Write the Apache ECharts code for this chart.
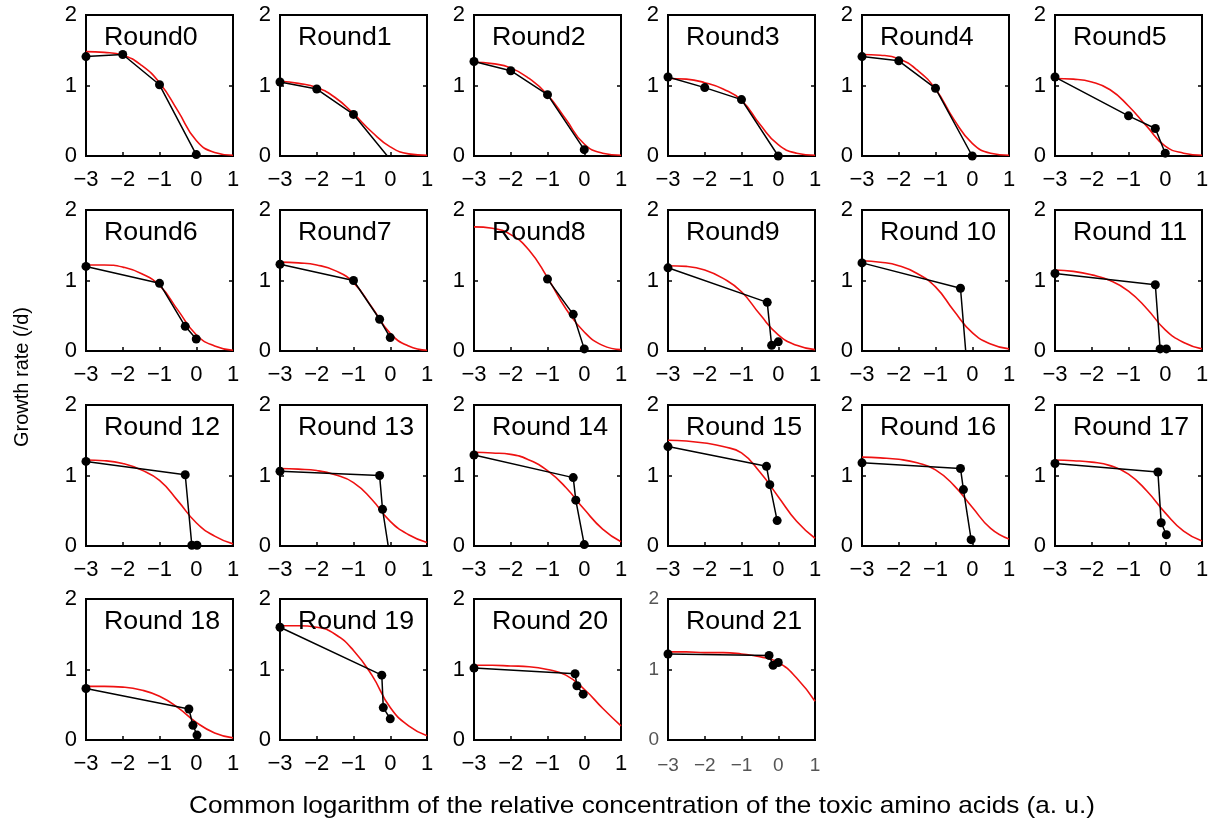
<!DOCTYPE html>
<html>
<head>
<meta charset="utf-8">
<script src="https://cdn.jsdelivr.net/npm/echarts@6/dist/echarts.min.js"></script>
<style>html,body{margin:0;padding:0;background:#fff}#c{width:1215px;height:827px}</style>
</head>
<body>
<div id="c"></div>
<script>
// ---- data ----
const roundTitles = ['Round0','Round1','Round2','Round3','Round4','Round5',
  'Round6','Round7','Round8','Round9','Round 10','Round 11',
  'Round 12','Round 13','Round 14','Round 15','Round 16','Round 17',
  'Round 18','Round 19','Round 20','Round 21'];
const xTicks = [-3, -2, -1, 0, 1];
const yTicks = [0, 1, 2];
// measured growth rate: [log concentration, growth rate]
const measured = [
  [[-3,1.41],[-2,1.44],[-1,1.01],[0,0.02]],
  [[-3,1.05],[-2,0.95],[-1,0.59],[0,-0.05]],
  [[-3,1.34],[-2,1.21],[-1,0.87],[0,0.09]],
  [[-3,1.12],[-2,0.97],[-1,0.80],[0,0]],
  [[-3,1.41],[-2,1.35],[-1,0.96],[0,0]],
  [[-3,1.12],[-1,0.57],[-0.27,0.39],[0,0.04]],
  [[-3,1.20],[-1,0.96],[-0.3,0.35],[0,0.17]],
  [[-3,1.23],[-1,1.00],[-0.29,0.45],[0,0.19]],
  [[-1,1.02],[-0.3,0.52],[0,0.03]],
  [[-3,1.18],[-0.3,0.69],[-0.18,0.08],[0,0.13]],
  [[-3,1.25],[-0.32,0.89],[-0.17,-0.05]],
  [[-3,1.10],[-0.27,0.94],[-0.14,0.03],[0.03,0.03]],
  [[-3,1.20],[-0.3,1.01],[-0.12,0.01],[0.02,0.01]],
  [[-3,1.06],[-0.29,1.00],[-0.21,0.52],[-0.04,-0.05]],
  [[-3,1.29],[-0.3,0.97],[-0.23,0.65],[0,0.02]],
  [[-3,1.41],[-0.32,1.13],[-0.23,0.87],[-0.03,0.36]],
  [[-3,1.18],[-0.32,1.10],[-0.24,0.80],[-0.03,0.09]],
  [[-3,1.17],[-0.2,1.05],[-0.11,0.33],[0.03,0.16]],
  [[-3,0.73],[-0.2,0.44],[-0.09,0.21],[0.02,0.07]],
  [[-3,1.60],[-0.23,0.92],[-0.19,0.46],[0,0.30]],
  [[-3,1.02],[-0.25,0.94],[-0.2,0.77],[-0.03,0.65]],
  [[-3,1.22],[-0.25,1.20],[-0.14,1.06],[0,1.10]]
];
// fitted curve sampled at fitX
const fitX = [-3, -2.5, -2, -1.5, -1, -0.5, 0, 0.5, 1];
const fitY = [
  [1.48,1.47,1.43,1.29,1.04,0.64,0.22,0.05,0.01],
  [1.06,1.03,0.97,0.83,0.60,0.34,0.13,0.03,0.01],
  [1.33,1.31,1.25,1.10,0.87,0.52,0.17,0.04,0.01],
  [1.10,1.09,1.04,0.95,0.79,0.45,0.16,0.04,0.01],
  [1.44,1.43,1.38,1.22,0.95,0.52,0.18,0.04,0.01],
  [1.10,1.09,1.05,0.94,0.71,0.42,0.14,0.04,0.01],
  [1.22,1.22,1.19,1.10,0.93,0.58,0.23,0.07,0.01],
  [1.26,1.25,1.22,1.14,0.97,0.62,0.25,0.07,0.01],
  [1.76,1.74,1.65,1.43,1.04,0.60,0.27,0.08,0.02],
  [1.21,1.20,1.15,1.03,0.84,0.52,0.23,0.08,0.02],
  [1.28,1.26,1.21,1.10,0.91,0.57,0.26,0.10,0.03],
  [1.15,1.13,1.08,1.00,0.85,0.60,0.30,0.12,0.03],
  [1.22,1.21,1.17,1.08,0.93,0.64,0.33,0.14,0.03],
  [1.10,1.09,1.07,1.01,0.90,0.66,0.35,0.16,0.05],
  [1.33,1.32,1.30,1.22,1.07,0.83,0.52,0.24,0.06],
  [1.50,1.49,1.46,1.41,1.32,1.05,0.70,0.35,0.11],
  [1.26,1.25,1.23,1.18,1.08,0.86,0.55,0.25,0.10],
  [1.22,1.21,1.19,1.14,1.02,0.78,0.47,0.21,0.07],
  [0.76,0.76,0.75,0.71,0.62,0.46,0.25,0.10,0.03],
  [1.62,1.62,1.60,1.50,1.27,0.92,0.46,0.20,0.06],
  [1.06,1.06,1.05,1.04,1.00,0.92,0.72,0.45,0.20],
  [1.25,1.25,1.24,1.24,1.22,1.18,1.10,0.88,0.55]
];
const yAxisTitle = 'Growth rate (/d)';
const xAxisTitle = 'Common logarithm of the relative concentration of the toxic amino acids (a. u.)';

// ---- layout ----
const colLeft = [86, 280, 474, 668, 862, 1055];
const rowTop = [15, 210, 405, 599];
const W = 147, H = 141;
const FONT = '"Liberation Sans", Arial, Helvetica, sans-serif';
const fmt = v => v < 0 ? '\u2212' + Math.abs(v) : String(v);
const tick = {show: true, inside: true, length: 4, lineStyle: {color: '#000', width: 1.5}};

const grids = [], xAxes = [], yAxes = [], series = [], texts = [];
roundTitles.forEach((name, i) => {
  const r = Math.floor(i / 6), c = i % 6;
  const left = colLeft[c], top = rowTop[r];
  const last = i === 21;
  const labColor = last ? '#555' : '#000';
  const labSize = last ? 19 : 22;
  grids.push({left: left, top: top, width: W, height: H, show: true,
    borderColor: '#000', borderWidth: 2, backgroundColor: 'transparent'});
  xAxes.push({type: 'value', gridIndex: i, position: 'bottom', min: xTicks[0], max: xTicks[xTicks.length-1], interval: 1,
    axisLine: {show: false, onZero: false}, splitLine: {show: false}, axisTick: tick,
    axisLabel: {color: labColor, fontSize: labSize, fontFamily: FONT, margin: last ? 16 : 13, formatter: fmt,
      showMinLabel: true, showMaxLabel: true}});
  yAxes.push({type: 'value', gridIndex: i, position: 'left', min: yTicks[0], max: yTicks[yTicks.length-1], interval: 1,
    axisLine: {show: false, onZero: false}, splitLine: {show: false}, axisTick: tick,
    axisLabel: {color: labColor, fontSize: labSize, fontFamily: FONT, margin: 9, formatter: fmt,
      showMinLabel: true, showMaxLabel: true}});
  yAxes.push({type: 'value', gridIndex: i, position: 'right', min: yTicks[0], max: yTicks[yTicks.length-1], interval: 1,
    axisLine: {show: false, onZero: false}, splitLine: {show: false}, axisLabel: {show: false}, axisTick: tick});
  series.push({type: 'line', xAxisIndex: i, yAxisIndex: 2*i,
    data: fitX.map((x, j) => [x, fitY[i][j]]),
    smooth: 0.5, showSymbol: false, clip: true,
    lineStyle: {color: '#ee1111', width: 1.6}, z: 2, silent: true});
  series.push({type: 'line', xAxisIndex: i, yAxisIndex: 2*i,
    data: measured[i], symbol: 'circle', symbolSize: 9, clip: true,
    itemStyle: {color: '#000'}, lineStyle: {color: '#000', width: 1.5}, z: 3, silent: true});
  texts.push({type: 'text', x: left + 18, y: top + 23, scaleX: 1.07, z: 10,
    style: {text: name, fontSize: 25, fontFamily: FONT, fill: '#000', align: 'left', verticalAlign: 'middle'}});
});

texts.push({type: 'text', x: 22, y: 377, rotation: Math.PI / 2,
  style: {text: yAxisTitle, fontSize: 20, fontFamily: FONT, fill: '#000', align: 'center', verticalAlign: 'middle'}});
texts.push({type: 'text', x: 642, y: 806, scaleX: 1.09,
  style: {text: xAxisTitle, fontSize: 24, fontFamily: FONT, fill: '#000', align: 'center', verticalAlign: 'middle'}});

const chart = echarts.init(document.getElementById('c'), null, {renderer: 'canvas'});
chart.setOption({
  animation: false,
  backgroundColor: '#fff',
  grid: grids,
  xAxis: xAxes,
  yAxis: yAxes,
  series: series,
  graphic: texts
});
</script>
</body>
</html>
